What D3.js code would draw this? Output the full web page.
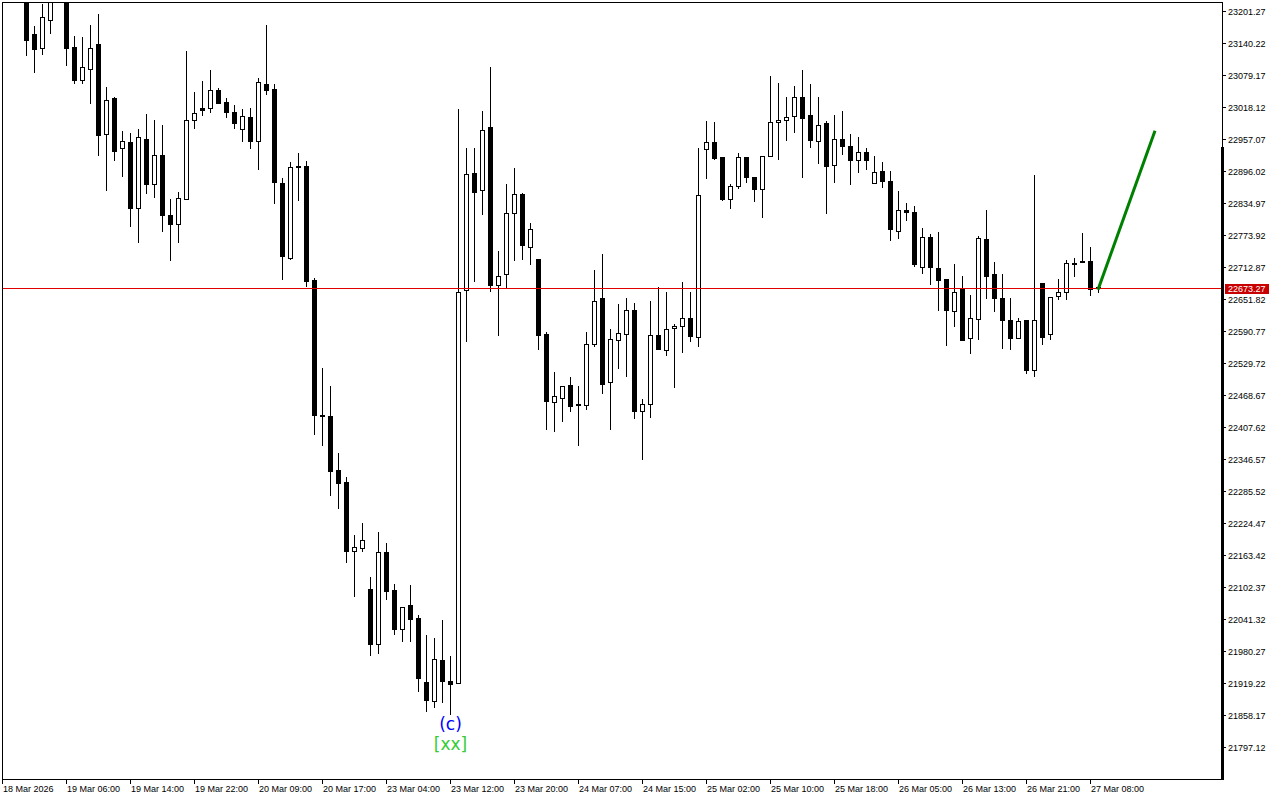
<!DOCTYPE html>
<html><head><meta charset="utf-8">
<script src="https://cdn.jsdelivr.net/npm/d3@7"></script>
<style>html,body{margin:0;padding:0;background:#fff;overflow:hidden}</style>
</head><body><svg id="chart" width="1280" height="800"></svg>
<script>
// ---- data (H1 bars, index 0 = 18 Mar 2026 00:00) ----
const opens = [23236,23250,23268,23242,23156.5,23131.1,23184.5,23232,23238,23131.7,
23070.1,23091.0,23137.4,22967.1,23034.4,22940.4,22951.8,22825.2,22957.5,22871.7,
22927.0,22812.6,22794.7,22842.3,22993.8,23017.2,23016.7,23051.0,23028.1,23009.0,
22976.6,22999.5,22953.7,23062.4,23052.9,22873.6,22729.8,22906.6,22906.0,22687.3,
22431.7,22429.8,22326.2,22303.4,22171.8,22177.5,22099.3,21994.4,22169.9,22097.4,
22023.0,22068.8,22044.0,21921.9,21884.9,21963.9,21923.8,21920.0,22669.5,22892.7,
22859.5,22979.1,22679.1,22699.3,22815.6,22852.6,22750.8,22729.2,22585.6,22455.9,
22463.6,22488.4,22452.1,22450.2,22565.8,22654.3,22493.3,22574.2,22584.9,22631.4,
22438.0,22451.4,22583.7,22555.1,22597.1,22600.9,22616.1,22579.9,22938.5,22951.8,
22921.9,22843.1,22867.1,22923.2,22885.6,22862.2,22925.1,22990.0,22993.8,23001.4,
23037.6,23003.3,22953.7,22988.6,22907.9,22957.5,22944.2,22917.5,22932.7,22873.6,
22896.5,22877.4,22782.1,22822.1,22818.3,22713.4,22770.6,22711.5,22689.2,22629.5,
22673.9,22578.0,22614.2,22765.5,22700.6,22653.0,22612.9,22578.0,22611.0,22516.2,
22682.9,22585.6,22658.1,22665.7,22721.0,22725.4,22725.4,22675.2];
const highs = [23262,23278,23282,23248,23173.6,23213.7,23245,23256,23244,23154.5,
23152.6,23175.5,23194.6,23056.7,23036.3,22971.5,22969.5,22975.3,23003.9,22994.3,
22982.9,22841.8,22857.0,23125.9,23047.7,23068.7,23087.8,23054.8,23035.7,23022.4,
23015.3,23016.7,23073.9,23175.5,23062.4,22883.2,22913.7,22930.8,22915.6,22691.1,
22520.8,22487.0,22358.7,22312.9,22202.3,22225.2,22122.2,22208.0,22187.0,22108.8,
22065.0,22105.6,22049.7,22011.6,22005.8,22040.2,21971.5,23015.3,22940.9,22940.9,
23011.5,23095.4,22742.6,22870.4,22900.9,22855.1,22796.0,22729.2,22588.7,22513.7,
22486.4,22502.3,22487.0,22590.0,22706.4,22736.9,22595.7,22643.4,22653.0,22645.3,
22462.2,22649.1,22675.8,22666.3,22604.7,22683.5,22665.0,22940.9,22992.4,22990.5,
22923.2,22871.7,22931.4,22923.2,22885.6,22925.1,23076.4,23064.9,23036.3,23057.3,
23087.8,23061.1,23036.3,22992.4,23002.0,23009.6,22967.6,22961.9,22940.4,22923.8,
22913.7,22895.2,22858.9,22835.5,22829.7,22786.5,22776.9,22780.7,22689.2,22717.8,
22696.8,22658.7,22771.8,22820.8,22723.5,22700.6,22653.0,22616.7,22611.0,22889.4,
22682.9,22656.2,22689.2,22727.3,22730.6,22778.8,22752.1,22675.2];
const lows = [23228,23240,23232,23117.0,23084.5,23118.9,23158.9,23224,23097.9,23063.6,
23063.6,23025.4,22926.3,22859.5,22916.7,22886.2,22790.8,22760.3,22853.8,22846.2,
22781.3,22726.0,22760.3,22842.3,22977.7,23002.5,23008.3,23025.4,22998.7,22977.7,
22953.0,22939.6,22899.5,23042.6,22834.7,22689.8,22727.9,22840.4,22676.4,22393.6,
22374.5,22277.8,22253.0,22150.0,22085.2,22171.0,21972.7,21976.5,22078.9,22012.7,
21999.4,21999.4,21904.0,21865.8,21873.5,21883.0,21859.6,21920.0,22571.5,22685.9,
22813.2,22666.9,22582.4,22673.4,22727.3,22729.2,22719.7,22555.7,22405.0,22399.9,
22418.9,22438.0,22373.2,22442.6,22562.0,22472.3,22403.7,22520.0,22504.8,22425.4,
22345.9,22426.6,22556.3,22544.8,22483.8,22550.5,22571.5,22562.0,22882.4,22918.6,
22840.4,22825.2,22863.3,22874.8,22838.5,22808.0,22925.1,22918.6,22954.9,22970.1,
22884.3,22941.5,22911.0,22815.6,22874.8,22928.2,22870.9,22893.8,22899.5,22873.6,
22865.2,22764.1,22768.0,22802.3,22714.6,22701.2,22680.2,22630.6,22565.2,22600.1,
22573.4,22548.6,22575.3,22653.0,22628.7,22558.2,22556.3,22578.0,22511.2,22505.5,
22566.6,22575.3,22651.6,22651.6,22696.8,22722.9,22659.2,22665.0];
const closes = [23250,23268,23242,23145.6,23128.4,23190.2,23232,23238,23130.3,23069.3,
23094.8,23131.1,22964.4,23031.9,22933.9,22953.7,22825.2,22961.3,22871.7,22927.0,
22811.8,22794.7,22845.0,22993.8,23007.1,23012.1,23051.0,23025.4,23008.3,22987.3,
23001.4,22953.0,23066.2,23050.2,22874.8,22733.6,22904.1,22903.4,22685.9,22431.7,
22428.5,22323.6,22300.7,22171.0,22179.4,22192.7,21993.6,22169.9,22094.7,22022.2,
22065.0,22041.3,21928.8,21886.8,21965.8,21923.1,21917.3,22665.7,22890.8,22855.7,
22974.7,22678.3,22696.8,22816.4,22852.6,22754.6,22785.9,22582.4,22457.1,22467.4,
22486.4,22447.5,22449.5,22566.6,22648.6,22489.5,22576.1,22587.5,22631.4,22438.0,
22452.1,22583.7,22556.3,22595.2,22600.9,22616.1,22581.1,22850.7,22951.8,22920.5,
22841.8,22867.9,22923.2,22885.1,22861.4,22925.1,22990.0,22993.8,22999.5,23037.6,
22996.8,22955.6,22984.2,22905.3,22957.5,22944.2,22917.5,22932.7,22917.5,22894.6,
22876.7,22785.1,22822.1,22818.3,22718.4,22770.6,22713.4,22687.9,22630.6,22665.7,
22573.4,22616.1,22767.4,22695.5,22653.5,22611.6,22577.2,22610.4,22516.2,22612.3,
22579.1,22656.2,22665.7,22721.0,22718.4,22722.9,22671.4,22673.27];

const timeLabels = ["18 Mar 2026","19 Mar 06:00","19 Mar 14:00","19 Mar 22:00","20 Mar 09:00",
"20 Mar 17:00","23 Mar 04:00","23 Mar 12:00","23 Mar 20:00","24 Mar 07:00","24 Mar 15:00",
"25 Mar 02:00","25 Mar 10:00","25 Mar 18:00","26 Mar 05:00","26 Mar 13:00","26 Mar 21:00","27 Mar 08:00"];
const timeLabelBars = [0,8,16,24,32,40,48,56,64,72,80,88,96,104,112,120,128,136];

const priceTicks = ["23201.27","23140.22","23079.17","23018.12","22957.07","22896.02","22834.97",
"22773.92","22712.87","22651.82","22590.77","22529.72","22468.67","22407.62","22346.57",
"22285.52","22224.47","22163.42","22102.37","22041.32","21980.27","21919.22","21858.17","21797.12"];

const lastPrice = 22673.27;
const projectionBars = [137, 144];
const projectionPrices = [22673.27, 22971.0];
const waveBar = 56;
const waveTexts = ["(c)", "[xx]"];
const waveColors = ["#0000ff", "#33cc33"];

// ---- layout ----
const svg = d3.select("#chart");
const pL = 2, pT = 2, pR = 1222, pB = 779;
const x = d3.scaleLinear().domain([0, 1]).range([2, 10]);           // bar index -> pixel column
const y = d3.scaleLinear().domain([21797.12, 23201.27]).range([747.74, 11.5]);
const row = p => Math.floor(y(p));
const col = i => Math.round(x(i));

svg.append("rect").attr("width", 1280).attr("height", 800).attr("fill", "#fff");

svg.append("defs").append("clipPath").attr("id", "plot")
  .append("rect").attr("x", pL + 1).attr("y", pT + 1)
  .attr("width", pR - pL - 1).attr("height", pB - pT - 1);

const g = svg.append("g").attr("clip-path", "url(#plot)");

const bars = opens.map((o, i) => ({ i, o, h: highs[i], l: lows[i], c: closes[i] }));

// wicks
g.selectAll("rect.wick").data(bars).join("rect")
  .attr("class", "wick")
  .attr("x", d => col(d.i)).attr("width", 1)
  .attr("y", d => row(d.h))
  .attr("height", d => row(d.l) - row(d.h) + 1)
  .attr("fill", "#000");

// bodies
bars.forEach(d => {
  const t = row(Math.max(d.o, d.c)), b = row(Math.min(d.o, d.c));
  const cx = col(d.i);
  if (d.c > d.o && b - t >= 1) {
    g.append("rect").attr("x", cx - 1.5).attr("y", t + 0.5)
      .attr("width", 4).attr("height", b - t)
      .attr("fill", "#fff").attr("stroke", "#000").attr("stroke-width", 1);
  } else {
    g.append("rect").attr("x", cx - 2).attr("y", t)
      .attr("width", 5).attr("height", Math.max(1, b - t + 1))
      .attr("fill", "#000");
  }
});

// last price line
const lpRow = row(lastPrice);
g.append("line").attr("x1", pL).attr("x2", pR)
  .attr("y1", lpRow + 0.5).attr("y2", lpRow + 0.5)
  .attr("stroke", "#e00000").attr("stroke-width", 1);

// projection line
g.append("path")
  .datum(projectionBars.map((b, k) => [b, projectionPrices[k]]))
  .attr("d", d3.line().x(d => x(d[0]) + 0.5).y(d => y(d[1])))
  .attr("fill", "none").attr("stroke", "#008000").attr("stroke-width", 3)
  .attr("stroke-linecap", "square");

// wave labels
const lowRow = row(lows[waveBar]);
waveTexts.forEach((t, k) => {
  g.append("text").attr("x", x(waveBar) + 0.5).attr("y", lowRow + 16 + k * 20)
    .attr("text-anchor", "middle")
    .attr("font-family", "DejaVu Sans").attr("font-size", 17)
    .attr("fill", waveColors[k]).text(t);
});

// frame
svg.append("rect").attr("x", pL + 0.5).attr("y", pT + 0.5)
  .attr("width", pR - pL).attr("height", pB - pT)
  .attr("fill", "none").attr("stroke", "#000").attr("stroke-width", 1);
svg.append("rect").attr("x", pR - 1).attr("y", 147).attr("width", 3)
  .attr("height", pB - 147 + 1).attr("fill", "#000");

// price axis
const font = "Liberation Sans, Arial, sans-serif";
const pa = svg.append("g");
priceTicks.forEach(s => {
  const r = row(+s);
  pa.append("line").attr("x1", pR).attr("x2", pR + 4)
    .attr("y1", r + 0.5).attr("y2", r + 0.5).attr("stroke", "#000");
  pa.append("text").attr("x", 1228).attr("y", r + 3.5)
    .attr("font-family", font).attr("font-size", 9).attr("fill", "#000").text(s);
});
pa.append("rect").attr("x", 1225).attr("y", lpRow - 4).attr("width", 44).attr("height", 10)
  .attr("fill", "#c80000");
pa.append("text").attr("x", 1228).attr("y", lpRow + 3.5)
  .attr("font-family", font).attr("font-size", 9).attr("fill", "#fff").text(lastPrice.toFixed(2));

// time axis
const ta = svg.append("g");
timeLabels.forEach((s, k) => {
  const cx = col(timeLabelBars[k]);
  ta.append("line").attr("x1", cx + 0.5).attr("x2", cx + 0.5)
    .attr("y1", pB).attr("y2", pB + 5).attr("stroke", "#000");
  ta.append("text").attr("x", cx + 1).attr("y", 791.5)
    .attr("font-family", font).attr("font-size", 9).attr("fill", "#000").text(s);
});
</script></body></html>
